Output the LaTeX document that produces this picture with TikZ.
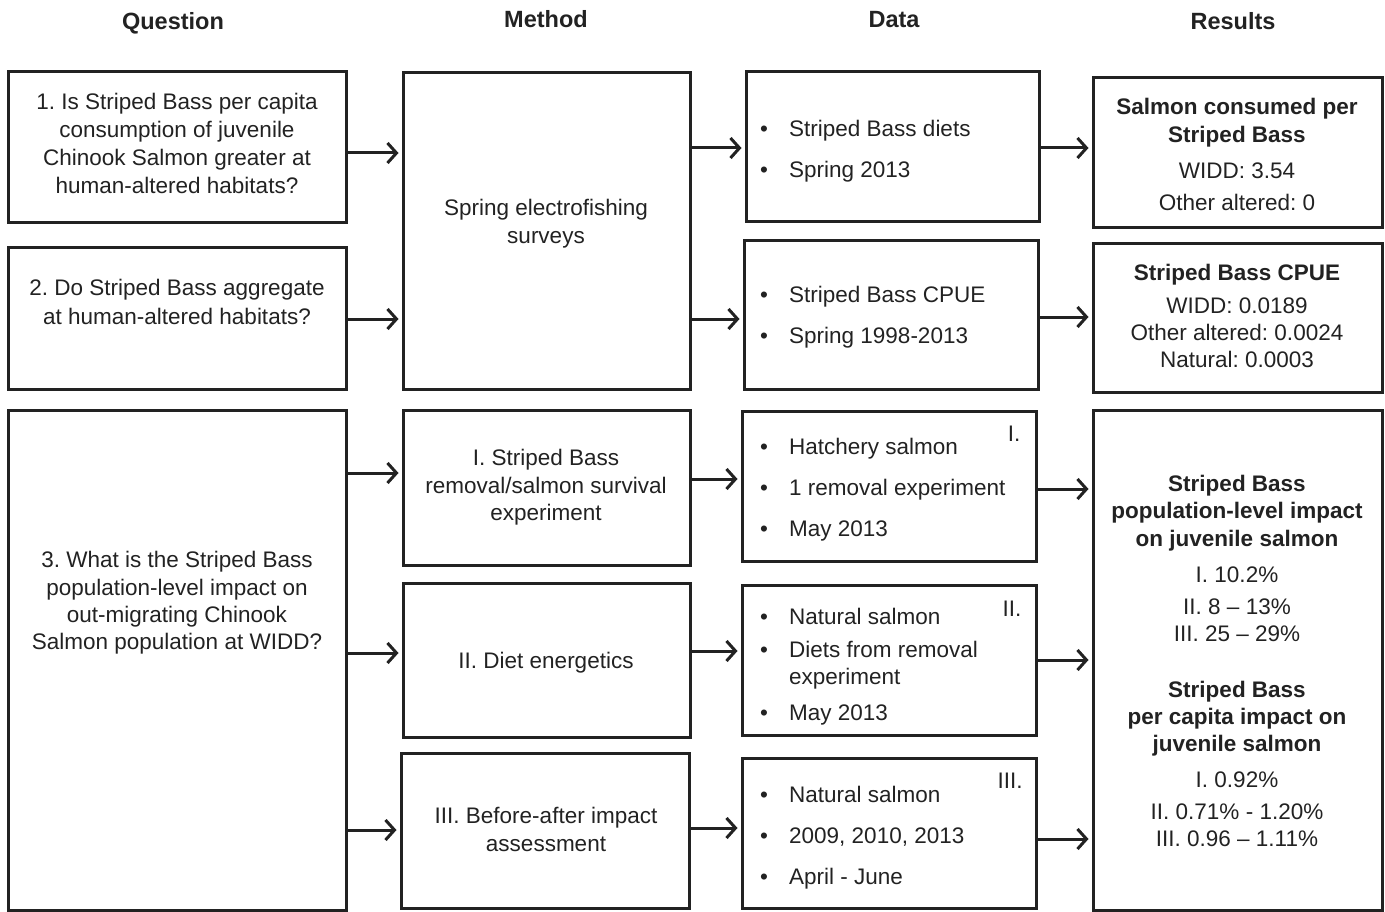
\documentclass[tikz,border=0pt]{standalone}
\usepackage{fontspec}
\setmainfont{Liberation Sans}
\usetikzlibrary{arrows.meta}
\definecolor{ink}{HTML}{222222}
\frenchspacing
\tikzset{
  box/.style={draw=ink, line width=3pt, rectangle, inner sep=0pt},
  txt/.style={anchor=base, inner sep=0pt, text=ink, font=\fontsize{22.5}{27}\selectfont},
  txtl/.style={txt, anchor=base west},
  hdr/.style={txt, font=\fontsize{23.5}{28}\selectfont\bfseries},
  bld/.style={txt, font=\fontsize{22.5}{27}\selectfont\bfseries},
  arr/.style={draw=ink, line width=3pt, -{Straight Barb[length=9pt,width=20pt]}, shorten >=3pt},
}
\newcommand\bx[5]{\node[box,minimum width={(#4-#2)*1pt},minimum height={(#5-#3)*1pt}] (#1) at ({(#2+#4)/2},{(#3+#5)/2}) {};}
\newcommand\tl[5][txt]{\node[#1] (#2) at (#3,{#4+8}) {#5};}
\newcommand\bl[4]{\node[txt] (#1b) at (#2,{#3+8}) {•};\node[txtl] (#1) at ({#2+25},{#3+8}) {#4};}
\begin{document}
\begin{tikzpicture}[x=1pt,y=-1pt]
\useasboundingbox (0,0) rectangle (1385,912);
% headers
\tl[hdr]{hq}{173}{22}{Question}
\tl[hdr]{hm}{546}{20}{Method}
\tl[hdr]{hd}{894}{20}{Data}
\tl[hdr]{hr}{1233}{22}{Results}
% boxes
\bx{q1}{8}{72}{346}{223}
\bx{q2}{8}{248}{346}{389}
\bx{q3}{8}{410}{346}{910}
\bx{m0}{403}{73}{690}{389}
\bx{m1}{403}{410}{690}{565}
\bx{m2}{403}{583}{690}{737}
\bx{m3}{401}{753}{689}{908}
\bx{d1}{746}{72}{1039}{222}
\bx{d2}{744}{241}{1038}{389}
\bx{d3}{742}{411}{1036}{561}
\bx{d4}{742}{585}{1036}{735}
\bx{d5}{742}{758}{1036}{908}
\bx{r1}{1093}{78}{1382}{228}
\bx{r2}{1093}{244}{1382}{392}
\bx{r3}{1093}{410}{1382}{910}
% question texts
\tl{q1a}{177}{102}{1. Is Striped Bass per capita}
\tl{q1b}{177}{130}{consumption of juvenile}
\tl{q1c}{177}{158}{Chinook Salmon greater at}
\tl{q1d}{177}{186}{human-altered habitats?}
\tl{q2a}{177}{288}{2. Do Striped Bass aggregate}
\tl{q2b}{177}{316}{at human-altered habitats?}
\tl{q3a}{177}{559}{3. What is the Striped Bass}
\tl{q3b}{177}{587}{population-level impact on}
\tl{q3c}{177}{614}{out-migrating Chinook}
\tl{q3d}{177}{641}{Salmon population at WIDD?}
% method texts
\tl{m0a}{546}{208}{Spring electrofishing}
\tl{m0b}{546}{236}{surveys}
\tl{m1a}{546}{457}{I. Striped Bass}
\tl{m1b}{546}{485}{removal/salmon survival}
\tl{m1c}{546}{512}{experiment}
\tl{m2a}{546}{660}{II. Diet energetics}
\tl{m3a}{546}{815}{III. Before-after impact}
\tl{m3b}{546}{843}{assessment}
% data texts
\bl{d1a}{764}{129}{Striped Bass diets}
\bl{d1b}{764}{170}{Spring 2013}
\bl{d2a}{764}{294}{Striped Bass CPUE}
\bl{d2b}{764}{335}{Spring 1998-2013}
\bl{d3a}{764}{446}{Hatchery salmon}
\bl{d3b}{764}{487}{1 removal experiment}
\bl{d3c}{764}{528}{May 2013}
\tl{d3n}{1014}{433}{I.}
\bl{d4a}{764}{616}{Natural salmon}
\bl{d4b}{764}{649}{Diets from removal}
\tl[txtl]{d4c}{789}{676}{experiment}
\bl{d4d}{764}{712}{May 2013}
\tl{d4n}{1012}{608}{II.}
\bl{d5a}{764}{794}{Natural salmon}
\bl{d5b}{764}{835}{2009, 2010, 2013}
\bl{d5c}{764}{876}{April - June}
\tl{d5n}{1010}{780}{III.}
% results texts
\tl[bld]{r1a}{1237}{107}{Salmon consumed per}
\tl[bld]{r1b}{1237}{135}{Striped Bass}
\tl{r1c}{1237}{171}{WIDD: 3.54}
\tl{r1d}{1237}{203}{Other altered: 0}
\tl[bld]{r2a}{1237}{272}{Striped Bass CPUE}
\tl{r2b}{1237}{305}{WIDD: 0.0189}
\tl{r2c}{1237}{332}{Other altered: 0.0024}
\tl{r2d}{1237}{359}{Natural: 0.0003}
\tl[bld]{r3a}{1237}{483}{Striped Bass}
\tl[bld]{r3b}{1237}{510}{population-level impact}
\tl[bld]{r3c}{1237}{538}{on juvenile salmon}
\tl{r3d}{1237}{574}{I. 10.2\%}
\tl{r3e}{1237}{606}{II. 8 – 13\%}
\tl{r3f}{1237}{633}{III. 25 – 29\%}
\tl[bld]{r3g}{1237}{689}{Striped Bass}
\tl[bld]{r3h}{1237}{716}{per capita impact on}
\tl[bld]{r3i}{1237}{743}{juvenile salmon}
\tl{r3j}{1237}{779}{I. 0.92\%}
\tl{r3k}{1237}{811}{II. 0.71\% - 1.20\%}
\tl{r3l}{1237}{838}{III. 0.96 – 1.11\%}
% arrows
\draw[arr] (q1.east |- 0,153) -- (m0.west |- 0,153);
\draw[arr] (q2.east |- 0,319) -- (m0.west |- 0,319);
\draw[arr] (q3.east |- 0,473) -- (m1.west |- 0,473);
\draw[arr] (q3.east |- 0,653) -- (m2.west |- 0,653);
\draw[arr] (q3.east |- 0,830) -- (m3.west |- 0,830);
\draw[arr] (m0.east |- 0,148) -- (d1.west |- 0,148);
\draw[arr] (m0.east |- 0,319) -- (d2.west |- 0,319);
\draw[arr] (m1.east |- 0,479) -- (d3.west |- 0,479);
\draw[arr] (m2.east |- 0,651) -- (d4.west |- 0,651);
\draw[arr] (m3.east |- 0,828) -- (d5.west |- 0,828);
\draw[arr] (d1.east |- 0,148) -- (r1.west |- 0,148);
\draw[arr] (d2.east |- 0,317) -- (r2.west |- 0,317);
\draw[arr] (d3.east |- 0,489) -- (r3.west |- 0,489);
\draw[arr] (d4.east |- 0,660) -- (r3.west |- 0,660);
\draw[arr] (d5.east |- 0,839) -- (r3.west |- 0,839);
\end{tikzpicture}
\end{document}
